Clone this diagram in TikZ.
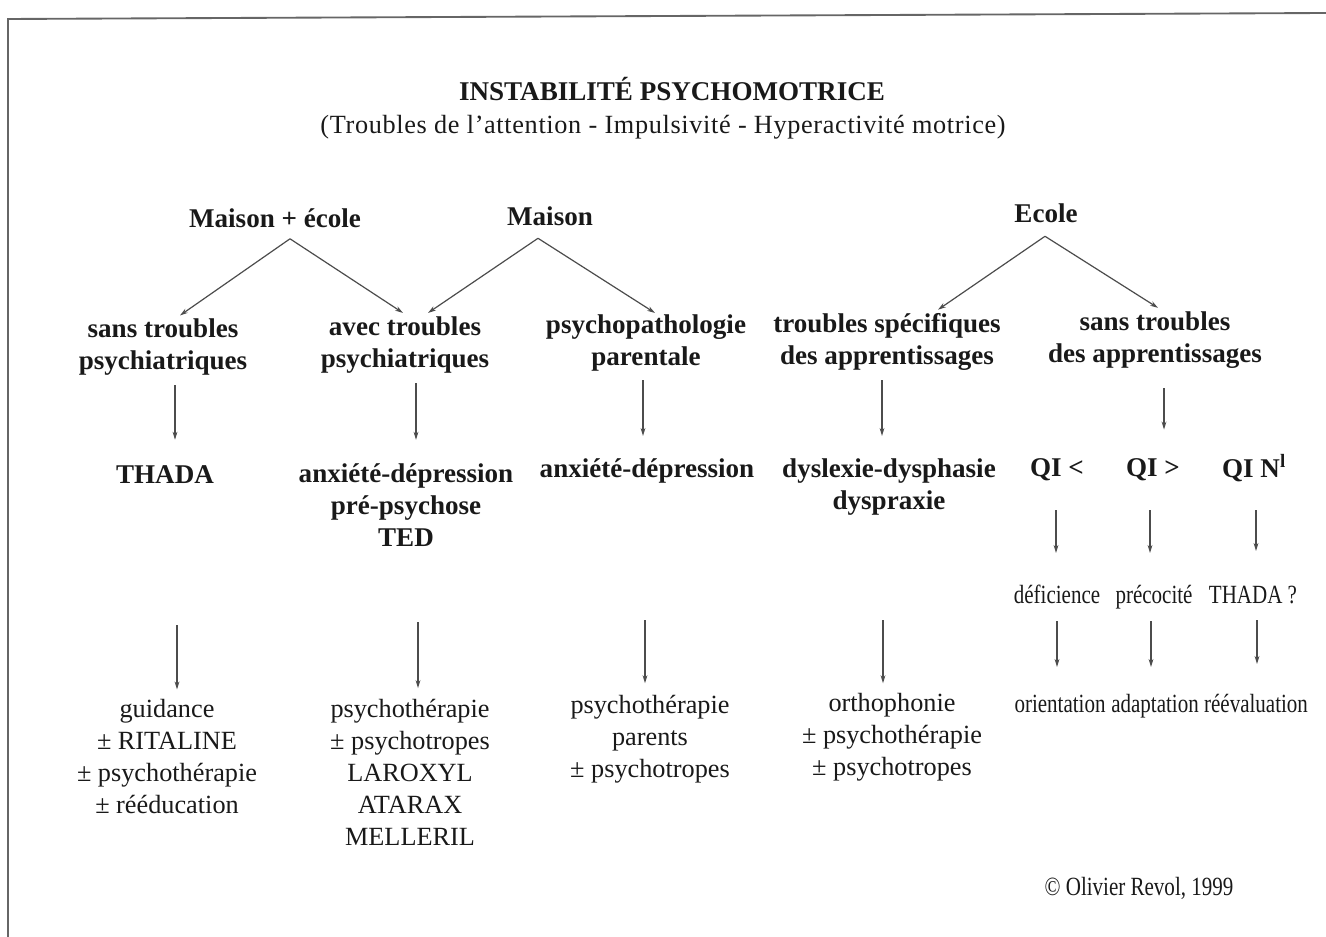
\documentclass[tikz,border=0pt]{standalone}
\usepackage{fontspec}
\setmainfont{Liberation Serif}
\newfontfamily\condfont[FakeStretch=0.8]{Liberation Serif}
\newfontfamily\spacedfont[LetterSpace=2.5]{Liberation Serif}
\usetikzlibrary{arrows.meta}
\begin{document}
\begin{tikzpicture}[x=0.75pt,y=-0.75pt,
  hd/.style={font=\fontsize{20.3}{24}\selectfont\bfseries, align=center, inner sep=0pt, text=black!90},
  tx/.style={font=\fontsize{19.7}{24}\selectfont, align=center, inner sep=0pt, text=black!90},
  cd/.style={font=\fontsize{19.7}{24}\selectfont\condfont, inner sep=0pt, text=black!90},
  arr/.style={draw=black!70, line width=0.9pt, -{Stealth[length=6pt,width=3.6pt]}},
  frame/.style={draw=black!60, line width=1.4pt}]
\useasboundingbox (0,0) rectangle (1326,937);
\draw[frame] (8,937) -- (8,19) -- (1326,13);

% titles
\node[hd] (title) at (672,89) {INSTABILITÉ PSYCHOMOTRICE};
\node[tx, font=\fontsize{19.7}{24}\selectfont\spacedfont] (sub) at (663,127) {(Troubles de l’attention - Impulsivité - Hyperactivité motrice)};

% level 1
\node[hd] (me) at (275,218) {Maison + école};
\node[hd] (ma) at (550,216) {Maison};
\node[hd] (ec) at (1046,213) {Ecole};

% level 2
\node[hd] (s1) at (163,347) {sans troubles\\psychiatriques};
\node[hd] (s2) at (405,345) {avec troubles\\psychiatriques};
\node[hd] (s3) at (646,343) {psychopathologie\\parentale};
\node[hd] (s4) at (887,342) {troubles spécifiques\\des apprentissages};
\node[hd] (s5) at (1155,340) {sans troubles\\des apprentissages};

% level 3
\node[hd] (t1) at (165,475) {THADA};
\node[hd] (t2) at (406,505) {anxiété-dépression\\pré-psychose\\TED};
\node[hd] (t3) at (647,471) {anxiété-dépression};
\node[hd] (t4) at (889,487) {dyslexie-dysphasie\\dyspraxie};
\node[hd] (q1) at (1057,470) {QI <};
\node[hd] (q2) at (1153,470) {QI >};
\node[hd] (q3) at (1254,468) {QI N\textsuperscript{l}};

\node[cd, anchor=base] (d1) at (1057,603) {déficience};
\node[cd, anchor=base] (d2) at (1154,603) {précocité};
\node[cd, anchor=base] (d3) at (1253,603) {THADA ?};
\node[cd, anchor=base] (o1) at (1060,712) {orientation};
\node[cd, anchor=base] (o2) at (1155,712) {adaptation};
\node[cd, anchor=base] (o3) at (1256,712) {réévaluation};

% level 4
\node[tx] (r1) at (167,757) {guidance\\± RITALINE\\± psychothérapie\\± rééducation};
\node[tx] (r2) at (410,772) {psychothérapie\\± psychotropes\\LAROXYL\\ATARAX\\MELLERIL};
\node[tx] (r3) at (650,739) {psychothérapie\\parents\\± psychotropes};
\node[tx] (r4) at (892,737) {orthophonie\\± psychothérapie\\± psychotropes};

\node[cd] (copy) at (1139,888) {© Olivier Revol, 1999};

% slanted arrows
\draw[arr] ([shift={(15,11)}]me.south) -- ([shift={(17,-3)}]s1.north);
\draw[arr] ([shift={(15,11)}]me.south) -- ([shift={(-2,-3.5)}]s2.north);
\draw[arr] ([shift={(-12,12.5)}]ma.south) -- ([shift={(23,-3.5)}]s2.north);
\draw[arr] ([shift={(-12,12.5)}]ma.south) -- ([shift={(9,-1.5)}]s3.north);
\draw[arr] ([shift={(-1,13.5)}]ec.south) -- ([shift={(51,-3.5)}]s4.north);
\draw[arr] ([shift={(-1,13.5)}]ec.south) -- ([shift={(3,-3.5)}]s5.north);

% vertical arrows level 2 -> 3
\draw[arr] ([shift={(12,9.5)}]s1.south) -- ([shift={(10,-26)}]t1.north);
\draw[arr] ([shift={(11,9.5)}]s2.south) -- ([shift={(10,-23.5)}]t2.north);
\draw[arr] ([shift={(-3,8.5)}]s3.south) -- ([shift={(-4,-22.5)}]t3.north);
\draw[arr] ([shift={(-5,9.5)}]s4.south) -- ([shift={(-7,-22.5)}]t4.north);
\draw[arr] ([shift={(9,19.5)}]s5.south) -- ([shift={(11,-29)}]q2.north);

% level 3 -> 4
\draw[arr] ([shift={(12,141)}]t1.south) -- ([shift={(10,-10)}]r1.north);
\draw[arr] ([shift={(12,75.5)}]t2.south) -- ([shift={(8,-10.5)}]r2.north);
\draw[arr] ([shift={(-2,136.5)}]t3.south) -- ([shift={(-5,-11.5)}]r3.north);
\draw[arr] ([shift={(-6,104.5)}]t4.south) -- ([shift={(-9,-9.5)}]r4.north);

% QI branches
\draw[arr] ([shift={(-1,29)}]q1.south) -- ([shift={(-1,-50)}]d1.base);
\draw[arr] ([shift={(-3,29)}]q2.south) -- ([shift={(-4,-50)}]d2.base);
\draw[arr] ([shift={(2,28)}]q3.south) -- ([shift={(3,-52)}]d3.base);
\draw[arr] ([shift={(0,18)}]d1.base) -- ([shift={(-3,-45)}]o1.base);
\draw[arr] ([shift={(-3,18)}]d2.base) -- ([shift={(-4,-45)}]o2.base);
\draw[arr] ([shift={(4,17)}]d3.base) -- ([shift={(1,-48)}]o3.base);
\end{tikzpicture}
\end{document}
